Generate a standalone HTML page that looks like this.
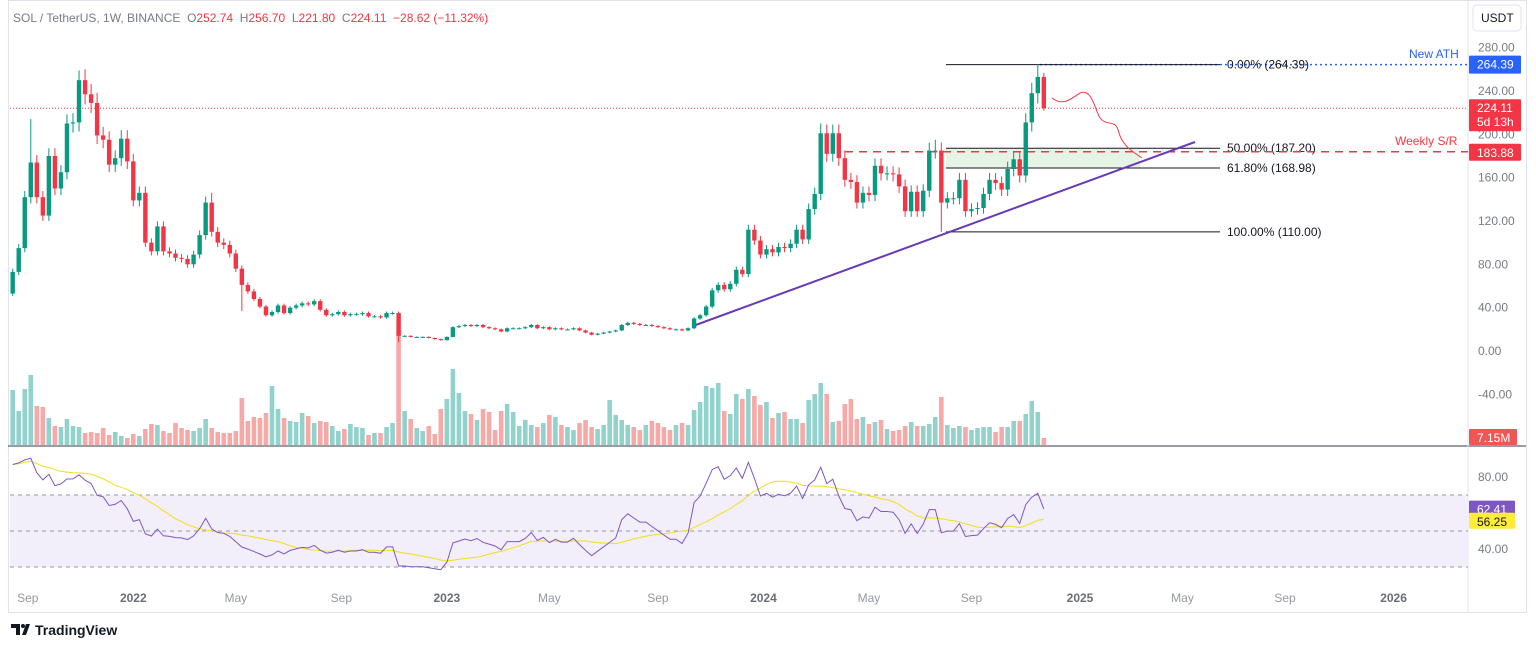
<!DOCTYPE html>
<html><head><meta charset="utf-8">
<style>
body{margin:0;background:#fff;font-family:"Liberation Sans",sans-serif;}
#wrap{position:relative;width:1536px;height:648px;overflow:hidden;}
svg text{font-family:"Liberation Sans",sans-serif;}
</style></head>
<body>
<div id="wrap">
<svg id="c" width="1536" height="648"></svg>
</div>
<script>
// ---- data ----
const closes = [73,95,142,174,142,125,180,150,165,210,211,250,237,229,199,195,172,178,196,175,
139,146,100,92,115,92,90,86,85,80,89,107,137,110,100,98,90,76,61,55,48,41,33,36,42,35,40,42,44,43,46,38,33,34,36,33,34,34,35,32,32,31,35,35,14,
14,13,13,13,12,11,10,13,22,23,24,
23,24,22,21,20,18,21,21,21,22,24,21,22,20,21,20,20,21,19,17,15,16,17,18,19,24,26,25,24,24,23,22,21,20,20,19,21,
30,33,41,56,61,57,62,75,71,112,102,89,94,91,96,95,99,112,103,131,145,201,182,201,178,158,156,137,146,144,171,164,164,163,152,129,147,129,148,185,185,137,141,141,158,129,131,132,145,158,155,149,168,177,162,211,238,253,224.11];
const firstOpen = 53;
const highOverrides = [[3,214],[11,259],[33,146],[134,210],[153,195],[170,264.39],[171,256.7]];
const lowOverrides = [[38,37],[64,8],[154,110],[171,221.8]];
const volumes = [55,34,56,70,39,38,27,19,18,26,19,18,12,13,12,17,10,13,9,7,11,9,16,21,20,14,12,22,17,15,14,17,26,17,13,12,12,14,47,24,28,27,32,59,36,27,24,23,32,29,22,24,23,19,14,16,21,18,17,10,12,12,18,22,
115,34,26,17,14,19,11,36,46,76,52,34,31,25,36,33,15,34,41,33,19,
25,20,18,22,30,28,20,18,15,22,25,18,16,20,45,30,25,20,18,15,20,24,22,18,15,20,22,20,
35,43,59,57,62,34,31,51,46,56,49,40,43,27,32,33,26,26,22,45,51,62,51,23,24,41,46,26,28,21,23,25,16,14,15,19,23,19,19,21,28,48,20,17,19,18,15,17,18,18,13,18,18,24,24,31,44,33,7];
const priceTicks = [280,240,200,160,120,80,40,0,-40];
const rsiTicks = [80,40];
const timeLabels = ["Sep","2022","May","Sep","2023","May","Sep","2024","May","Sep","2025","May","Sep","2026"];
const timeWeeks = [2.5,20,37,54.5,72,89,107,124.5,142,159,177,194,211,229];
const fibLevels = [0,50,61.8,100];
const fibPrices = [264.39,187.2,168.98,110];

// ---- scales ----
const X0=12.7, STEP=6.03;
const xs = i => X0 + i*STEP;
const py = p => 351 - p*1.0833;
const ry = v => 477 + (80-v)*1.8;
const VBASE=445;

const svg=document.getElementById('c');
const NS='http://www.w3.org/2000/svg';
function mk(tag,attrs,parent){const e=document.createElementNS(NS,tag);for(const k in attrs)e.setAttribute(k,attrs[k]);(parent||svg).appendChild(e);return e;}
function txt(s,attrs,parent){const e=mk('text',attrs,parent);e.textContent=s;return e;}

// frame
let el=mk('rect',{x:8.5,y:0.5,width:1518,height:612,fill:'none',stroke:'#e0e3eb'});


el=mk('line',{x1:8,x2:1526,y1:446,y2:446,stroke:'#787b86','stroke-width':1.5});


el=mk('line',{x1:1468,x2:1468,y1:0,y2:612,stroke:'#e0e3eb'});



// volume
const opens = closes.map((c,i)=> i===0?firstOpen:closes[i-1]);
const gV=mk('g',{});


volumes.forEach((v,i)=>{
  const up=closes[i]>=opens[i];
  const r=mk('rect',{x:xs(i)-2.3,y:VBASE-v,width:4.6,height:v,fill:up?'#92d2cc':'#f7a9a7'},gV);
  
  
});

// RSI band
el=mk('rect',{x:10,y:ry(70),width:1458,height:ry(30)-ry(70),fill:'#f2effa'});


[70,50,30].forEach(v=>{
  const l=mk('line',{x1:10,x2:1468,y1:ry(v),y2:ry(v),stroke:'#9598a1','stroke-dasharray':'4 4'});
  
  
});

// fib zone fill
el=mk('rect',{x:946,y:py(187.2),width:194,height:py(168.98)-py(187.2),fill:'#e6f4e6'});



// current price line
el=mk('line',{x1:10,x2:1468,y1:py(224.11),y2:py(224.11),stroke:'#f23645','stroke-dasharray':'1 2','stroke-width':1});



// ATH line
el=mk('line',{x1:1040,x2:1468,y1:py(264.39),y2:py(264.39),stroke:'#2962ff','stroke-dasharray':'2 3','stroke-width':1.5});



// fib lines
fibLevels.forEach((lv,k)=>{
  const y=py(fibPrices[k]);
  const l=mk('line',{x1:946,x2:1220,y1:y,y2:y,stroke:'#131722','stroke-width':1});
  
  
  const t=txt(lv.toFixed(2)+'% ('+fibPrices[k].toFixed(2)+')',{x:1227,y:y+4,'font-size':12,fill:'#131722'});
  
  
});

// weekly S/R
el=mk('line',{x1:845,x2:1468,y1:py(183.88),y2:py(183.88),stroke:'#f23645','stroke-dasharray':'8 6','stroke-width':1.5});


el=txt('Weekly S/R',{x:1395,y:145,'font-size':12,fill:'#f23645'});


el=txt('New ATH',{x:1409,y:58,'font-size':12,fill:'#2962ff'});



// trendline
el=mk('line',{x1:693,y1:326,x2:1195,y2:142,stroke:'#673ab7','stroke-width':2});



// projection curve
el=mk('path',{d:'M1052,98 C1062,106 1070,100 1080,93 C1092,88 1095,110 1100,118 C1106,126 1116,120 1118,130 C1122,145 1130,150 1142,158',fill:'none',stroke:'#f23645','stroke-width':1});



// candles
const hiMap={},loMap={};
highOverrides.forEach(([i,v])=>hiMap[i]=v);
lowOverrides.forEach(([i,v])=>loMap[i]=v);
const gC=mk('g',{});


closes.forEach((c,i)=>{
  const o=opens[i], up=c>=o, col=up?'#089981':'#f23645';
  const hi= hiMap[i]!==undefined?hiMap[i]:Math.max(o,c)*1.04;
  const lo= loMap[i]!==undefined?loMap[i]:Math.min(o,c)*0.96;
  const x=xs(i);
  const w=mk('line',{x1:x,x2:x,y1:py(hi),y2:py(lo),stroke:col,'stroke-width':1},gC);
  
  
  const yt=py(Math.max(o,c)), yb=py(Math.min(o,c));
  const b=mk('rect',{x:x-2.2,y:yt,width:4.4,height:Math.max(1,yb-yt),fill:col},gC);
  
  
});

// RSI computation (Wilder 14) and MA14
const rsi=[];let ag=0,al=0;
closes.forEach((c,i)=>{
  const prev=i===0?firstOpen:closes[i-1];const d=c-prev;
  const g=Math.max(d,0),l=Math.max(-d,0);
  if(i===0){ag=g;al=g*0.15;} else {ag=(ag*13+g)/14;al=(al*13+l)/14;}
  rsi.push(al===0?100:100-100/(1+ag/al));
});
const rsiMa=rsi.map((v,i)=>{const s=rsi.slice(Math.max(0,i-13),i+1);return s.reduce((a,b)=>a+b,0)/s.length;});
el=mk('path',{d:rsiMa.map((v,i)=>(i?'L':'M')+xs(i).toFixed(1)+','+ry(v).toFixed(1)).join(''),fill:'none',stroke:'#f5dd16','stroke-width':1});


el=mk('path',{d:rsi.map((v,i)=>(i?'L':'M')+xs(i).toFixed(1)+','+ry(v).toFixed(1)).join(''),fill:'none',stroke:'#7e57c2','stroke-width':1});



// price axis
priceTicks.forEach(p=>{
  const t=txt(p.toFixed(2),{x:1478,y:py(p)+4,'font-size':12,fill:'#787b86'});
  
  
});
rsiTicks.forEach(v=>{
  const t=txt(v.toFixed(2),{x:1478,y:ry(v)+4,'font-size':12,fill:'#787b86'});
  
  
});
function badge(name,y,h,fill,lines,tc,w){
  const g=mk('g',{});
  
  
  mk('rect',{x:1469,y:y,width:w||52,height:h,fill:fill,rx:1},g);
  lines.forEach((s,k)=>{txt(s,{x:1477,y:y+13+k*14,'font-size':12,fill:tc||'#fff'},g);});
}
badge('ath-price-badge',py(264.39)-9,18,'#2962ff',['264.39']);
badge('last-price-badge',py(224.11)-9,32,'#f23645',['224.11','5d 13h']);
badge('sr-price-badge',py(183.88)-8,17,'#f23645',['183.88']);
badge('volume-badge',429,16,'#f05656',['7.15M'],'#fff',48);
badge('rsi-value-badge',ry(62.41)-8,16,'#7e57c2',['62.41'],'#fff',46);
badge('rsi-ma-badge',ry(56.25)-7,16,'#ffeb3b',['56.25'],'#131722',46);

// USDT button
const gb=mk('g',{});


mk('rect',{x:1473,y:5,width:48,height:26,rx:4,fill:'#fff',stroke:'#e0e3eb'},gb);
txt('USDT',{x:1481,y:22,'font-size':12,fill:'#131722'},gb);

// time axis
timeLabels.forEach((s,k)=>{
  const bold=/^\d/.test(s);
  const t=txt(s,{x:xs(timeWeeks[k]),y:602,'font-size':12,fill:bold?'#6a6d78':'#9598a1','text-anchor':'middle','font-weight':bold?'bold':'normal'});
  
  
});

// header
const hdr=txt('',{x:13,y:22,'font-size':12,fill:'#787b86'});


[['SOL / TetherUS, 1W, BINANCE  ','#787b86'],['O','#787b86'],['252.74  ','#f23645'],['H','#787b86'],['256.70  ','#f23645'],['L','#787b86'],['221.80  ','#f23645'],['C','#787b86'],['224.11  −28.62 (−11.32%)','#f23645']].forEach(([s,c])=>{
  const ts=document.createElementNS(NS,'tspan');ts.setAttribute('fill',c);ts.textContent=s;hdr.appendChild(ts);
});
hdr.setAttribute('style','white-space:pre');

// logo
const gl=mk('g',{});


mk('path',{d:'M11,624 h9 v11 h-4 v-7 h-5z M22,635 l4,-11 h4 l-4,11z',fill:'#131722'},gl);
mk('circle',{cx:23,cy:626,r:2,fill:'#131722'},gl);
txt('TradingView',{x:35,y:635,'font-size':14,fill:'#131722','font-weight':'bold'},gl);
</script>
</body></html>
